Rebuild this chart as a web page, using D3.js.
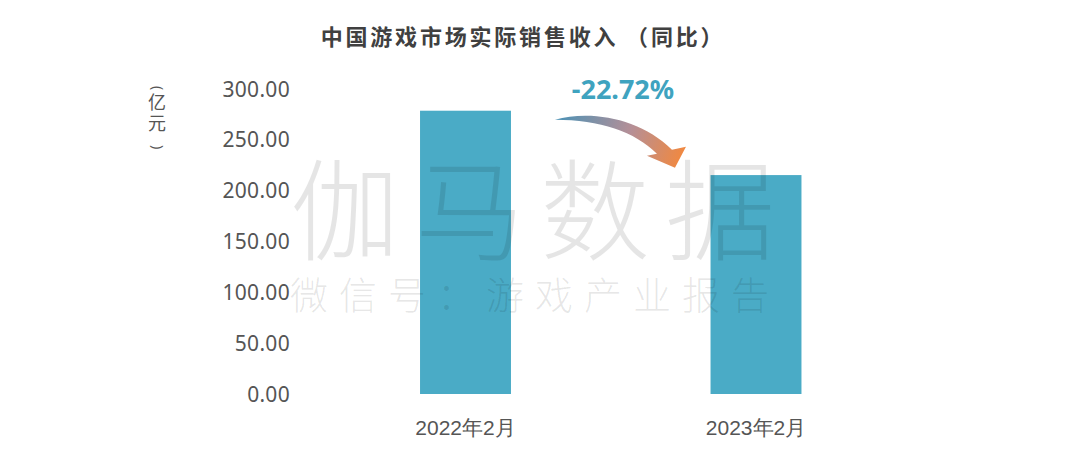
<!DOCTYPE html>
<html><head><meta charset="utf-8">
<script src="https://cdn.jsdelivr.net/npm/d3@7"></script>
<style>
html,body{margin:0;padding:0;background:#fff;}
svg{display:block;font-family:"Noto Sans CJK SC","Noto Sans",sans-serif;}
</style></head>
<body><svg id="c" width="1080" height="452"></svg>
<script>
const categories = ["2022年2月", "2023年2月"];
const revenue = [278.64, 215.33];
const yTicks = [0, 50, 100, 150, 200, 250, 300];
const changeLabel = "-22.72%";
const titleText = "中国游戏市场实际销售收入 （同比）";
const unitText = "亿元";
const unitParens = ["(", ")"];
const watermarkMain = "伽马数据";
const watermarkSub = "微信号：游戏产业报告";

const svg = d3.select("#c");
const x = d3.scaleBand().domain(categories).range([320.25, 901.25]).paddingInner(0.687).paddingOuter(0.3435);
const y = d3.scaleLinear().domain([0, 300]).range([394, 89]);

// title
svg.append("text").attr("x", 523).attr("y", 45).attr("text-anchor", "middle")
  .attr("font-size", 22).attr("font-weight", 700).attr("fill", "#404040")
  .attr("letter-spacing", 2.8).text(titleText);

// unit label: vertical characters + rotated parentheses
const ux = 157;
svg.append("text").attr("x", ux).attr("y", 93)
  .attr("font-size", 18).attr("fill", "#555").attr("letter-spacing", 3)
  .style("writing-mode", "vertical-rl").style("text-orientation", "upright")
  .text(unitText);
[[unitParens[0], 88], [unitParens[1], 147]].forEach(([ch, cy]) => {
  const t = svg.append("text").attr("x", 0).attr("y", 0)
    .attr("font-size", 14).attr("fill", "#555").attr("font-family", "'Noto Sans',sans-serif").text(ch);
  const b = t.node().getBBox();
  const cx0 = b.x + b.width / 2, cy0 = b.y + b.height / 2 + 1.5;
  t.attr("transform", `translate(${ux},${cy}) rotate(90) translate(${-cx0},${-cy0})`);
});

// y axis
const yAxis = d3.axisLeft(y).tickValues(yTicks).tickFormat(d3.format(".2f")).tickSize(0).tickPadding(0);
const ya = svg.append("g").attr("transform", "translate(290,0)").call(yAxis);
ya.select(".domain").remove();
ya.selectAll("text").attr("font-size", 21).attr("fill", "#555").attr("letter-spacing", 0.3)
  .attr("font-family", "'Noto Sans',sans-serif").attr("dy", "0.34em");

// bars
svg.append("g").selectAll("rect").data(revenue).join("rect")
  .attr("x", (d, i) => x(categories[i])).attr("width", x.bandwidth())
  .attr("y", d => y(d)).attr("height", d => y(0) - y(d))
  .attr("fill", "#4aabc6");

// x axis
const xAxis = d3.axisBottom(x).tickSize(0).tickPadding(0);
const xa = svg.append("g").attr("transform", "translate(0,428)").call(xAxis);
xa.select(".domain").remove();
xa.selectAll("text").attr("font-size", 21).attr("fill", "#555").attr("dy", "0.35em");

// arrow annotation
const tx = x(categories[0]) + x.bandwidth() + 44, ty = y(revenue[0]) + 9;
const defs = svg.append("defs");
const g = defs.append("linearGradient").attr("id", "ag").attr("gradientUnits", "userSpaceOnUse")
  .attr("x1", tx).attr("y1", ty).attr("x2", tx + 131).attr("y2", ty + 40);
g.append("stop").attr("offset", 0).attr("stop-color", "#4a92b6");
g.append("stop").attr("offset", 0.55).attr("stop-color", "#b58f97");
g.append("stop").attr("offset", 1).attr("stop-color", "#f5883a");
const p = (dx, dy) => `${tx + dx},${ty + dy}`;
svg.append("path")
  .attr("d", `M${p(0,0)} C${p(35,-10)} ${p(85,-2)} ${p(117,30)} L${p(131,27)} L${p(120,48)} L${p(92,36)} L${p(102,34)} C${p(80,12)} ${p(45,0)} ${p(0,0)} Z`)
  .attr("fill", "url(#ag)");

svg.append("text").attr("x", 623).attr("y", 99).attr("text-anchor", "middle")
  .attr("font-size", 27).attr("font-weight", 700).attr("fill", "#3fa3bf")
  .attr("font-family", "'Noto Sans',sans-serif").text(changeLabel);

// watermark
svg.append("text").attr("x", 290).attr("y", 252)
  .attr("font-size", 110).attr("letter-spacing", 15).attr("fill", "rgba(0,0,0,0.1)")
  .attr("font-weight", 300).text(watermarkMain);
svg.append("text").attr("x", 290).attr("y", 309)
  .attr("font-size", 38).attr("letter-spacing", 11).attr("fill", "rgba(0,0,0,0.1)")
  .attr("font-weight", 300).text(watermarkSub);
</script></body></html>
